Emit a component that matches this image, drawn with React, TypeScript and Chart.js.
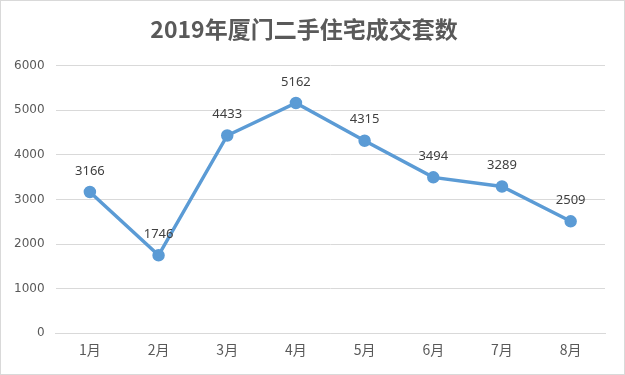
import React, { useEffect, useRef } from "react";
import { Chart, registerables } from "chart.js";

Chart.register(...registerables);

const categories = ["1月", "2月", "3月", "4月", "5月", "6月", "7月", "8月"];
const values = [3166, 1746, 4433, 5162, 4315, 3494, 3289, 2509];
const titleText = "2019年厦门二手住宅成交套数";

const labelPlugin = {
  id: "pointLabels",
  afterDatasetsDraw(chart: any) {
    const { ctx } = chart;
    const meta = chart.getDatasetMeta(0);
    ctx.save();
    ctx.font = "13px 'Noto Sans', 'Noto Sans CJK SC', sans-serif";
    ctx.fillStyle = "#404040";
    ctx.textAlign = "center";
    ctx.textBaseline = "middle";
    meta.data.forEach((pt: any, i: number) => {
      ctx.fillText(String(values[i]), pt.x, pt.y - 21);
    });
    ctx.restore();
  },
};

export default function App() {
  const ref = useRef<HTMLCanvasElement>(null);
  useEffect(() => {
    if (!ref.current) return;
    const chart = new Chart(ref.current, {
      type: "line",
      data: {
        labels: categories,
        datasets: [
          {
            data: values,
            borderColor: "#5B9BD5",
            backgroundColor: "#5B9BD5",
            borderWidth: 3.5,
            pointRadius: 4.5,
            pointHoverRadius: 4.5,
            tension: 0,
          },
        ],
      },
      options: {
        animation: false,
        responsive: false,
        devicePixelRatio: 1,
        layout: { padding: { left: 2, right: 19, top: 0, bottom: 8 } },
        plugins: {
          legend: { display: false },
          tooltip: { enabled: false },
          title: {
            display: true,
            text: titleText,
            color: "#595959",
            font: { family: "'Noto Sans CJK SC', sans-serif", size: 23, weight: "bold" },
            padding: { top: 14, bottom: 23 },
          },
        },
        scales: {
          x: {
            offset: true,
            grid: { display: false, drawTicks: false },
            border: { color: "#d9d9d9", width: 1 },
            ticks: {
              color: "#595959",
              font: { family: "'Noto Sans CJK SC', sans-serif", size: 14 },
              padding: 8,
            },
          },
          y: {
            min: 0,
            max: 6000,
            grid: { color: "#d9d9d9", drawTicks: false },
            border: { display: false },
            ticks: {
              stepSize: 1000,
              color: "#595959",
              font: { family: "'DejaVu Sans', sans-serif", size: 12 },
              padding: 11,
              callback: (v: any) => String(v),
            },
          },
        },
      },
      plugins: [labelPlugin],
    });
    return () => chart.destroy();
  }, []);
  return (
    <div
      style={{
        position: "fixed",
        left: 0,
        top: 0,
        width: 625,
        height: 375,
        boxSizing: "border-box",
        border: "1px solid #d9d9d9",
        background: "#fff",
      }}
    >
      <canvas ref={ref} width={623} height={373} style={{ display: "block" }} />
    </div>
  );
}
